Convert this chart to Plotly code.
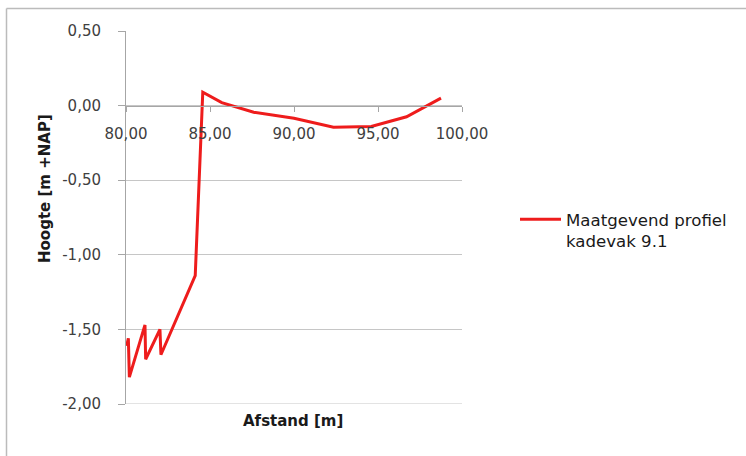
import plotly.graph_objects as go

# Profile: distance [m] vs height [m +NAP]
afstand = [80.04, 80.14, 80.20, 81.13, 81.17, 82.02, 82.08, 84.12, 84.57,
           85.70, 87.60, 90.00, 92.35, 94.60, 96.70, 98.75]
hoogte = [-1.61, -1.56, -1.82, -1.47, -1.70, -1.50, -1.67, -1.14, 0.09,
          0.02, -0.045, -0.085, -0.145, -0.14, -0.075, 0.05]

serie_naam = "Maatgevend profiel<br>kadevak 9.1"
x_ticks = [80, 85, 90, 95, 100]
x_labels = ["80,00", "85,00", "90,00", "95,00", "100,00"]
y_ticks = [0.5, 0.0, -0.5, -1.0, -1.5, -2.0]
y_labels = ["0,50", "0,00", "-0,50", "-1,00", "-1,50", "-2,00"]

W, H = 746, 456
ML, MR, MT, MB = 126, 284, 31, 52
PW = W - ML - MR
PH = H - MT - MB

grid = "#c6c6c6"
axis_line = "#a6a6a6"
tick_font = dict(family="DejaVu Sans", size=15, color="#404040")
title_font = dict(family="DejaVu Sans", size=15, color="#1a1a1a")


def px_x(p):
    return (p - ML) / PW


def px_y(p):
    return 1 - (p - MT) / PH


fig = go.Figure()
fig.add_trace(go.Scatter(
    x=afstand, y=hoogte, mode="lines", name=serie_naam,
    line=dict(color="#ee1c1c", width=3),
))

y_min, y_max = y_ticks[-1], y_ticks[0]
fig.update_layout(
    width=W, height=H,
    margin=dict(l=ML, r=MR, t=MT, b=MB, pad=0, autoexpand=False),
    paper_bgcolor="white", plot_bgcolor="white",
    showlegend=True,
    legend=dict(
        x=px_x(515), xanchor="left",
        y=px_y(202), yanchor="top",
        font=dict(family="DejaVu Sans", size=16.6, color="#1a1a1a"),
        valign="top", itemwidth=41, bgcolor="rgba(0,0,0,0)",
    ),
    xaxis=dict(
        range=[80, 100], tickvals=x_ticks, ticktext=x_labels,
        anchor="free", position=(0 - y_min) / (y_max - y_min),
        showline=True, linecolor=axis_line, linewidth=1,
        ticks="outside", ticklen=5, tickcolor=axis_line,
        showgrid=False, zeroline=False, tickfont=tick_font,
        ticklabelstandoff=9,
    ),
    yaxis=dict(
        range=[y_min, y_max], tickvals=y_ticks, ticktext=y_labels,
        showline=True, linecolor=axis_line, linewidth=1,
        ticks="outside", ticklen=7, tickcolor=axis_line,
        showgrid=True, gridcolor=grid, gridwidth=1,
        zeroline=False, tickfont=tick_font, ticklabelstandoff=14,
    ),
    annotations=[
        dict(text="<b>Afstand [m]</b>", xref="paper", yref="paper",
             x=px_x(293), y=px_y(421), xanchor="center", yanchor="middle",
             showarrow=False, font=title_font),
        dict(text="<b>Hoogte [m +NAP]</b>", xref="paper", yref="paper",
             x=px_x(45), y=px_y(189), xanchor="center", yanchor="middle",
             textangle=-90, showarrow=False, font=title_font),
    ],
    shapes=[
        # bottom gridline at the lowest tick (plotly skips it at the edge)
        dict(type="line", xref="paper", yref="y",
             x0=0, x1=1, y0=y_min, y1=y_min,
             line=dict(color=grid, width=1), layer="below"),
        dict(type="line", xref="paper", yref="paper",
             x0=px_x(6.5), x1=px_x(6.5), y0=px_y(470), y1=px_y(8.5),
             line=dict(color="#bbbbbb", width=1.5), layer="below"),
        dict(type="line", xref="paper", yref="paper",
             x0=px_x(6.5), x1=px_x(760), y0=px_y(8.5), y1=px_y(8.5),
             line=dict(color="#bbbbbb", width=1.5), layer="below"),
    ],
)

fig.write_html("out.html")
